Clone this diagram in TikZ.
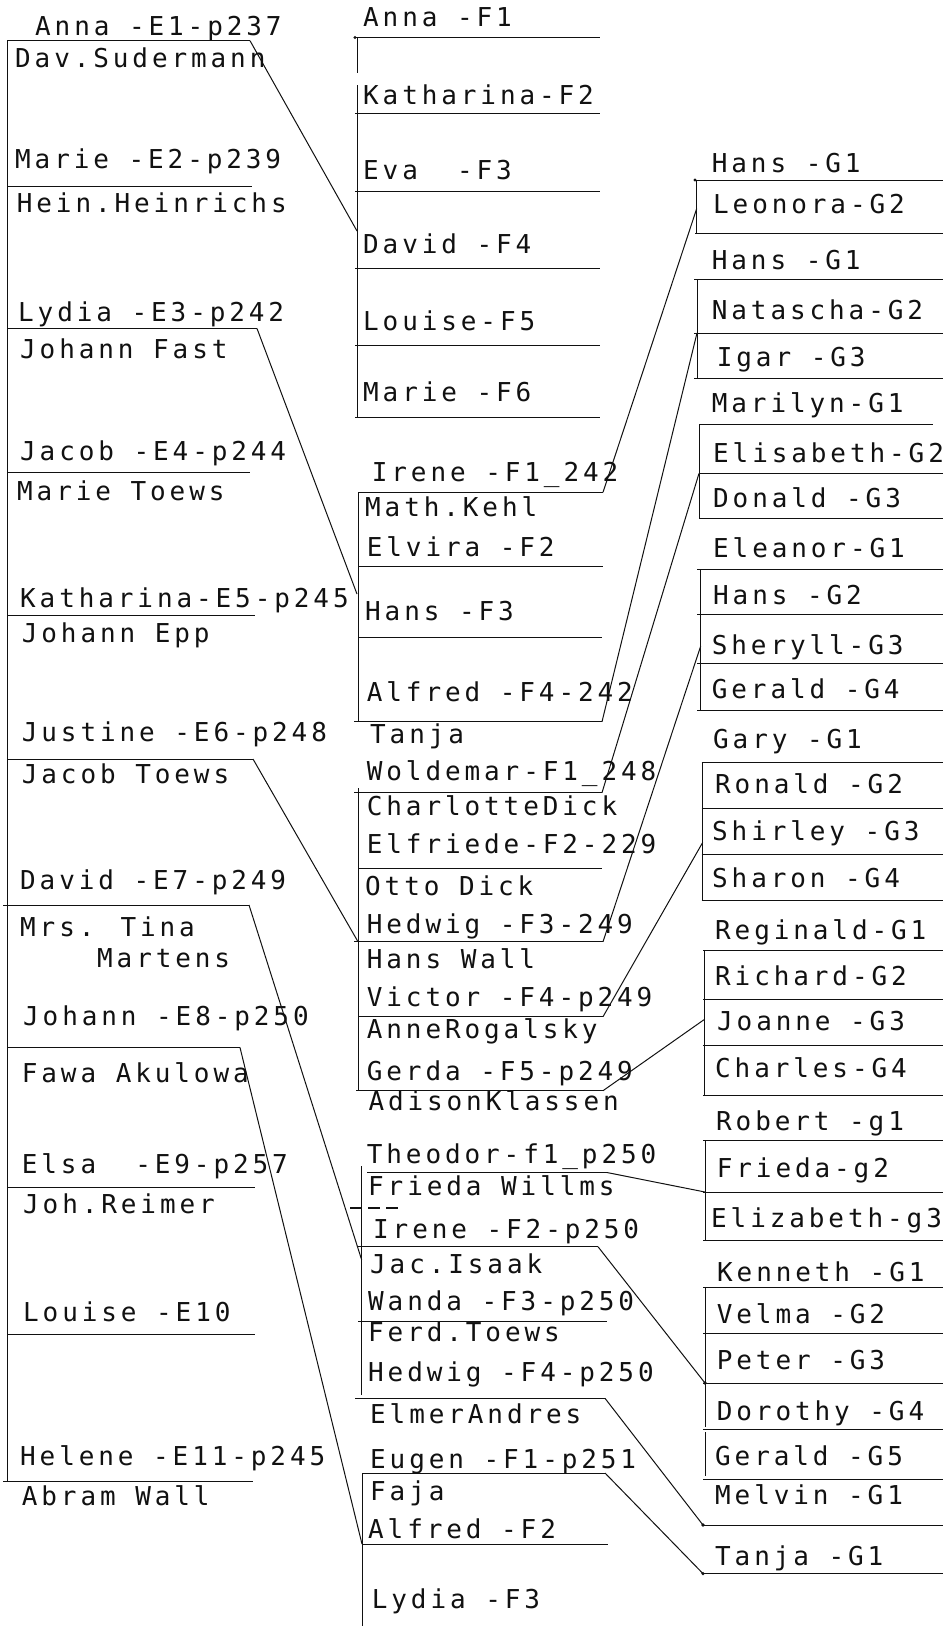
\documentclass[tikz,border=0pt]{standalone}
\usepackage{fontspec}
\newfontfamily\plotfont[LetterSpace=15]{DejaVu Sans Mono}
\definecolor{ink}{HTML}{111111}
\tikzset{
  person/.style={anchor=base west, inner sep=0pt, text=ink,
    font=\plotfont\fontsize{26}{28}\selectfont},
  rule/.style={ink, line width=1pt},
  link/.style={ink, line width=1pt},
  knot/.style={ink, fill=ink}
}

\begin{document}
\begin{tikzpicture}[x=1pt, y=-1pt]
\useasboundingbox (0,0) rectangle (943,1626);
\fill[white] (0,0) rectangle (943,1626);

% Generation E (left column)
\node[person] (e1)  at (35,35)     {Anna -E1-p237};
\node[person] (e1s) at (15,67.8)   {Dav.Sudermann};
\node[person] (e2)  at (15,168.6)  {Marie -E2-p239};
\node[person] (e2s) at (16.7,212)  {Hein.Heinrichs};
\node[person] (e3)  at (18,321.5)  {Lydia -E3-p242};
\node[person] (e3s) at (20,358)    {Johann Fast};
\node[person] (e4)  at (20,460.6)  {Jacob -E4-p244};
\node[person] (e4s) at (17,500.5)  {Marie Toews};
\node[person] (e5)  at (20,607.8)  {Katharina-E5-p245};
\node[person] (e5s) at (21.7,642.5) {Johann Epp};
\node[person] (e6)  at (21.7,741.6) {Justine -E6-p248};
\node[person] (e6s) at (21.7,783)  {Jacob Toews};
\node[person] (e7)  at (20,889)    {David -E7-p249};
\node[person] (e7s) at (20,936)    {Mrs. Tina};
\node[person] (e7t) at (97,967.5)  {Martens};
\node[person] (e8)  at (23,1025)   {Johann -E8-p250};
\node[person] (e8s) at (21.7,1082) {Fawa Akulowa};
\node[person] (e9)  at (21.7,1173.9) {Elsa~~-E9-p257};
\node[person] (e9s) at (23,1213.8) {Joh.Reimer};
\node[person] (e10) at (23,1321.6) {Louise -E10};
\node[person] (e11) at (20,1465.8) {Helene -E11-p245};
\node[person] (e11s) at (21.7,1505.8) {Abram Wall};

\draw[rule] (7.5,40.7) -- (7.5,1481.5);
\coordinate (e1r) at (250,40.7);
\coordinate (e3r) at (257,328.5);
\coordinate (e6r) at (253,759);
\coordinate (e7r) at (249,905);
\coordinate (e8r) at (240,1047.5);
\draw[rule] (7,40.7) -- (e1r);
\draw[rule] (7,186.7) -- (252,186.7);
\draw[rule] (7,328.5) -- (e3r);
\draw[rule] (7,472.7) -- (250,472.7);
\draw[rule] (7,615.8) -- (255,615.8);
\draw[rule] (7,759) -- (e6r);
\draw[rule] (3,905) -- (e7r);
\draw[rule] (7,1047.5) -- (e8r);
\draw[rule] (7,1187.8) -- (255,1187.8);
\draw[rule] (7,1334.4) -- (255,1334.4);
\draw[rule] (3,1481.5) -- (253,1481.5);

% Generation F (middle column)
\node[person] (fa1) at (363,26)    {Anna -F1};
\node[person] (fa2) at (363,104)   {Katharina-F2};
\node[person] (fa3) at (363,179)   {Eva~~-F3};
\node[person] (fa4) at (363,253.7) {David -F4};
\node[person] (fa5) at (363,330)   {Louise-F5};
\node[person] (fa6) at (363,401.5) {Marie -F6};
\draw[rule] (357,37.5) -- (357,73);
\draw[rule] (357,85) -- (357,417);
\foreach \y in {37.5,113.7,191,268.7,345,417}
  \draw[rule] (355,\y) -- (600,\y);
\fill[knot] (355,37.5) circle (1.6pt);

\node[person] (fb1)  at (371.7,481.7) {Irene -F1\_242};
\node[person] (fb1s) at (365,516.7)   {Math.Kehl};
\node[person] (fb2)  at (366.7,556.7) {Elvira -F2};
\node[person] (fb3)  at (365,620)     {Hans -F3};
\node[person] (fb4)  at (366.7,701.7) {Alfred -F4-242};
\node[person] (fb4s) at (370,743)     {Tanja};
\coordinate (fb1r) at (603,492.3);
\coordinate (fb4r) at (602,721.7);
\draw[rule] (358,492.3) -- (358,721.7);
\draw[rule] (358,492.3) -- (fb1r);
\draw[rule] (358,566.7) -- (603,566.7);
\draw[rule] (358,637.7) -- (602,637.7);
\draw[rule] (354,721.7) -- (fb4r);

\node[person] (fc1)  at (366.7,780)   {Woldemar-F1\_248};
\node[person] (fc1s) at (366.7,815)   {CharlotteDick};
\node[person] (fc2)  at (366.7,853)   {Elfriede-F2-229};
\node[person] (fc2s) at (365,895)     {Otto Dick};
\node[person] (fc3)  at (366.7,933.3) {Hedwig -F3-249};
\node[person] (fc3s) at (366.7,968)   {Hans Wall};
\node[person] (fc4)  at (366.7,1006.7) {Victor -F4-p249};
\node[person] (fc4s) at (366.7,1038)  {AnneRogalsky};
\node[person] (fc5)  at (366.7,1080)  {Gerda -F5-p249};
\node[person] (fc5s) at (368.3,1110)  {AdisonKlassen};
\coordinate (fc1r) at (602,792.7);
\coordinate (fc3r) at (603,941.7);
\coordinate (fc4r) at (603,1016.7);
\coordinate (fc5r) at (603,1090.7);
\draw[rule] (358,788) -- (358,1090.7);
\draw[rule] (354,792.7) -- (fc1r);
\draw[rule] (358,868.3) -- (602,868.3);
\draw[rule] (354,941.7) -- (fc3r);
\draw[rule] (358,1016.7) -- (fc4r);
\draw[rule] (356,1090.7) -- (fc5r);

\node[person] (fd1)  at (366.7,1163.3) {Theodor-f1\_p250};
\node[person] (fd1s) at (368,1195)     {Frieda Willms};
\node[person] (fd2)  at (373,1238)     {Irene -F2-p250};
\node[person] (fd2s) at (370,1273)     {Jac.Isaak};
\node[person] (fd3)  at (368,1310)     {Wanda -F3-p250};
\node[person] (fd3s) at (368,1341.7)   {Ferd.Toews};
\node[person] (fd4)  at (368,1381.7)   {Hedwig -F4-p250};
\node[person] (fd4s) at (370,1423)     {ElmerAndres};
\coordinate (fd1r) at (607,1172.5);
\coordinate (fd2r) at (598,1246.7);
\coordinate (fd4r) at (605,1398.3);
\draw[rule] (361.7,1166) -- (361.7,1395);
\draw[rule] (367,1172.5) -- (fd1r);
\draw[ink, line width=1.5pt, dash pattern=on 12pt off 6pt] (350,1208) -- (400,1208);
\draw[rule] (358,1246.7) -- (fd2r);
\draw[rule] (358,1321) -- (607,1321);
\draw[rule] (355,1398.3) -- (fd4r);

\node[person] (fe1)  at (370,1468)   {Eugen -F1-p251};
\node[person] (fe1s) at (370,1500)   {Faja};
\node[person] (fe2)  at (368,1538)   {Alfred -F2};
\node[person] (fe3)  at (371.7,1608) {Lydia -F3};
\coordinate (fe1r) at (605,1473);
\draw[rule] (362,1473) -- (362,1626);
\draw[rule] (362,1473) -- (fe1r);
\draw[rule] (362,1544) -- (608,1544);

% E to F connectors
\coordinate (fa4in) at (357,231);
\coordinate (fb3in) at (357,594);
\coordinate (fc3in) at (358,941.7);
\coordinate (fd2in) at (361.7,1260);
\coordinate (fe2in) at (362,1544);
\draw[link] (e1r) -- (fa4in);
\draw[link] (e3r) -- (fb3in);
\draw[link] (e6r) -- (fc3in);
\draw[link] (e7r) -- (fd2in);
\draw[link] (e8r) -- (fe2in);

% Generation G (right column)
\node[person] (ga1) at (711.7,172.8) {Hans -G1};
\node[person] (ga2) at (713,213.8)   {Leonora-G2};
\draw[rule] (696.7,180) -- (696.7,233.6);
\foreach \y in {180,233.6}
  \draw[rule] (695,\y) -- (943,\y);
\fill[knot] (695,180) circle (1.6pt);

\node[person] (gb1) at (711.7,269.4) {Hans -G1};
\node[person] (gb2) at (711.7,319.8) {Natascha-G2};
\node[person] (gb3) at (716.7,366.7) {Igar -G3};
\draw[rule] (697,279.8) -- (697,378.9);
\foreach \y in {279.8,333,378.9}
  \draw[rule] (694,\y) -- (943,\y);

\node[person] (gc1) at (711.7,412)   {Marilyn-G1};
\node[person] (gc2) at (713,462.3)   {Elisabeth-G2};
\node[person] (gc3) at (713,507.5)   {Donald -G3};
\draw[rule] (699,424.8) -- (699,518.6);
\draw[rule] (699,424.8) -- (933,424.8);
\foreach \y in {473.4,518.6}
  \draw[rule] (699,\y) -- (943,\y);

\node[person] (gd1) at (713,557.4)   {Eleanor-G1};
\node[person] (gd2) at (713,604.3)   {Hans -G2};
\node[person] (gd3) at (711.7,654.7) {Sheryll-G3};
\node[person] (gd4) at (711.7,698)   {Gerald -G4};
\draw[rule] (700.7,569.5) -- (700.7,710.3);
\foreach \y in {569.5,614.7,663.4,710.3}
  \draw[rule] (697,\y) -- (943,\y);

\node[person] (ge1) at (713,748)     {Gary -G1};
\node[person] (ge2) at (715,793.7)   {Ronald -G2};
\node[person] (ge3) at (712,840.7)   {Shirley -G3};
\node[person] (ge4) at (712,887)     {Sharon -G4};
\draw[rule] (702.7,762.5) -- (702.7,900.8);
\foreach \y in {762.5,808.4,854.6,900.8}
  \draw[rule] (701.7,\y) -- (943,\y);

\node[person] (gf1) at (715,939.7)   {Reginald-G1};
\node[person] (gf2) at (715,985)     {Richard-G2};
\node[person] (gf3) at (717,1030.8)  {Joanne -G3};
\node[person] (gf4) at (715,1077)    {Charles-G4};
\draw[rule] (704,950.2) -- (704,1095.6);
\foreach \y in {950.2,999.5,1045.8,1095.6}
  \draw[rule] (703,\y) -- (943,\y);

\node[person] (gg1) at (716,1130.4)   {Robert -g1};
\node[person] (gg2) at (716.7,1177.3) {Frieda-g2};
\node[person] (gg3) at (711,1227.7)   {Elizabeth-g3};
\draw[rule] (705,1140.8) -- (705,1240.6);
\foreach \y in {1140.8,1192,1240.6}
  \draw[rule] (703,\y) -- (943,\y);

\node[person] (gh1) at (717,1281)     {Kenneth -G1};
\node[person] (gh2) at (716.7,1323.3) {Velma -G2};
\node[person] (gh3) at (716.7,1369)   {Peter -G3};
\node[person] (gh4) at (716.7,1420.6) {Dorothy -G4};
\node[person] (gh5) at (715,1465.8)   {Gerald -G5};
\draw[rule] (705,1287.9) -- (705,1427);
\draw[rule] (705,1432) -- (705,1476);
\foreach \y in {1287.9,1333,1383,1429.3,1479.7}
  \draw[rule] (703,\y) -- (943,\y);

\node[person] (gi1) at (715,1504)   {Melvin -G1};
\node[person] (gj1) at (715,1565)   {Tanja -G1};
\draw[rule] (703,1525) -- (943,1525);
\draw[rule] (703,1573.6) -- (943,1573.6);

% F to G connectors
\coordinate (ga2in) at (696.7,208.6);
\coordinate (gb3in) at (697,333);
\coordinate (gc3in) at (699,473.4);
\coordinate (gd3in) at (700.7,646);
\coordinate (ge3in) at (702.7,842.4);
\coordinate (gf3in) at (704,1019.7);
\coordinate (gg3in) at (705,1192);
\coordinate (gh4in) at (705,1383);
\coordinate (gi1in) at (703,1525);
\coordinate (gj1in) at (703,1573.6);
\draw[link] (fb1r) -- (ga2in);
\draw[link] (fb4r) -- (gb3in);
\draw[link] (fc1r) -- (gc3in);
\draw[link] (fc3r) -- (gd3in);
\draw[link] (fc4r) -- (ge3in);
\draw[link] (fc5r) -- (gf3in);
\draw[link] (fd1r) -- (gg3in);
\draw[link] (fd2r) -- (gh4in);
\draw[link] (fd4r) -- (gi1in);
\draw[link] (fe1r) -- (gj1in);
\foreach \p in {gh4in,gi1in,gj1in}
  \fill[knot] (\p) circle (1.8pt);

\end{tikzpicture}
\end{document}
